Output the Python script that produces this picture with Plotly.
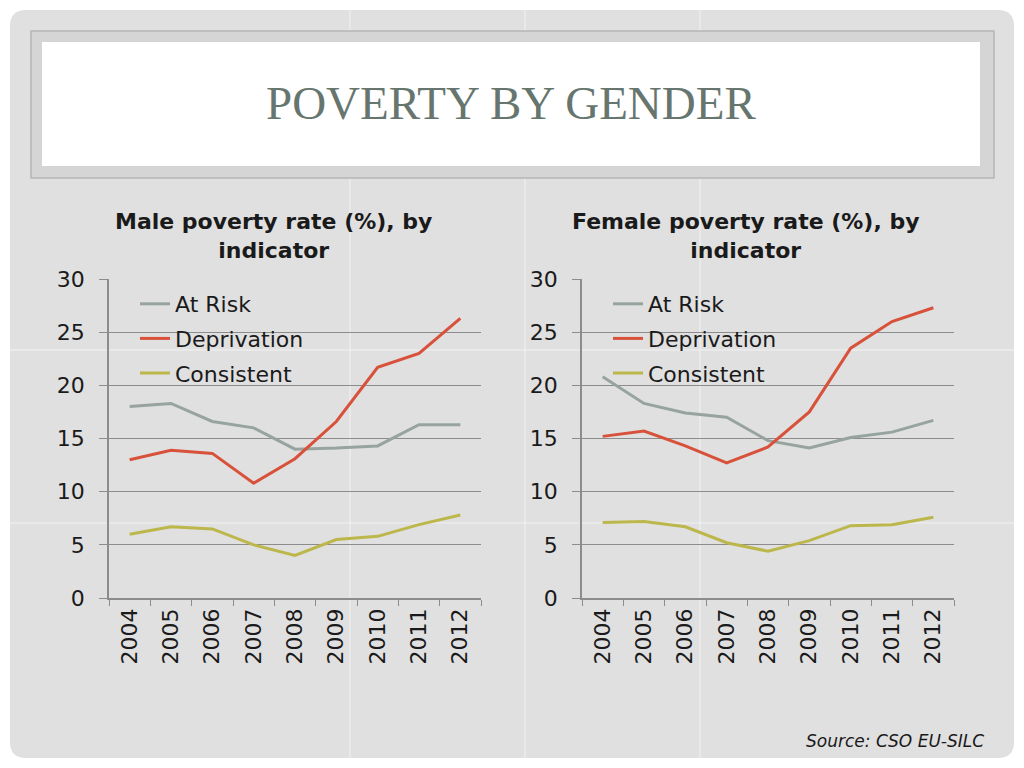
import plotly.graph_objects as go

years = ['2004', '2005', '2006', '2007', '2008', '2009', '2010', '2011', '2012']
series_names = ['At Risk', 'Deprivation', 'Consistent']

male_at_risk = [18.0, 18.3, 16.6, 16.0, 14.0, 14.1, 14.3, 16.3, 16.3]
male_deprivation = [13.0, 13.9, 13.6, 10.8, 13.1, 16.6, 21.7, 23.0, 26.3]
male_consistent = [6.0, 6.7, 6.5, 5.0, 4.0, 5.5, 5.8, 6.9, 7.8]

female_at_risk = [20.8, 18.3, 17.4, 17.0, 14.8, 14.1, 15.1, 15.6, 16.7]
female_deprivation = [15.2, 15.7, 14.3, 12.7, 14.2, 17.5, 23.5, 26.0, 27.3]
female_consistent = [7.1, 7.2, 6.7, 5.2, 4.4, 5.4, 6.8, 6.9, 7.6]

colors = ['#97a49e', '#d8513a', '#bcb74b']
W, H = 1024, 768
SANS = 'DejaVu Sans'


def px(x):
    return x / W


def py(y):
    return 1 - y / H


def rounded_rect(x0, y0, x1, y1, r):
    # path in paper coords, built from pixel positions
    pts = [
        ('M', (x0 + r, y0)), ('L', (x1 - r, y0)), ('Q', (x1, y0), (x1, y0 + r)),
        ('L', (x1, y1 - r)), ('Q', (x1, y1), (x1 - r, y1)),
        ('L', (x0 + r, y1)), ('Q', (x0, y1), (x0, y1 - r)),
        ('L', (x0, y0 + r)), ('Q', (x0, y0), (x0 + r, y0)),
    ]
    out = ''
    for cmd, *ps in pts:
        out += cmd + ' '.join(f'{px(a):.5f},{py(b):.5f}' for a, b in ps) + ' '
    return out + 'Z'


fig = go.Figure()

male = [male_at_risk, male_deprivation, male_consistent]
female = [female_at_risk, female_deprivation, female_consistent]
for i, name in enumerate(series_names):
    fig.add_trace(go.Scatter(x=years, y=male[i], name=name, mode='lines',
                             line={'color': colors[i], 'width': 3},
                             legendgroup=f'm{i}',
                             xaxis='x', yaxis='y', legend='legend'))
for i, name in enumerate(series_names):
    fig.add_trace(go.Scatter(x=years, y=female[i], name=name, mode='lines',
                             line={'color': colors[i], 'width': 3},
                             legendgroup=f'f{i}',
                             xaxis='x2', yaxis='y2', legend='legend2'))

xcommon = dict(type='category', range=[-0.5, 8.5], tickson='boundaries',
               ticks='outside', ticklen=6, tickcolor='#8c8c8c',
               showline=True, linecolor='#8c8c8c', linewidth=1.5,
               showgrid=False, tickangle=-90, automargin=False,
               tickfont={'family': SANS, 'size': 22, 'color': '#1a1a1a'})
ycommon = dict(range=[0, 30], dtick=5, ticks='outside', ticklen=8,
               tickcolor='#8c8c8c', showline=True, linecolor='#8c8c8c',
               linewidth=1.5, gridcolor='#8c8c8c', gridwidth=1,
               zeroline=False, ticklabelstandoff=10, automargin=False,
               tickfont={'family': SANS, 'size': 22, 'color': '#1a1a1a'})

legend_common = dict(bgcolor='rgba(0,0,0,0)', yanchor='top', xanchor='left',
                     font={'family': SANS, 'size': 22, 'color': '#1a1a1a'},
                     itemwidth=30, traceorder='grouped', tracegroupgap=3)

shapes = [
    dict(type='path', xref='paper', yref='paper', layer='below',
         path=rounded_rect(10, 10, 1014, 758, 16),
         fillcolor='#e0e0e0', line={'width': 0}),
]
for x in [350, 525, 700]:
    shapes.append(dict(type='line', xref='paper', yref='paper', layer='below',
                       x0=px(x), x1=px(x), y0=py(10), y1=py(758),
                       line={'color': '#f2f2f2', 'width': 1}))
for y in [350, 523]:
    shapes.append(dict(type='line', xref='paper', yref='paper', layer='below',
                       x0=px(10), x1=px(1014), y0=py(y), y1=py(y),
                       line={'color': '#f2f2f2', 'width': 1}))
shapes += [
    dict(type='rect', xref='paper', yref='paper', layer='below',
         x0=px(31), x1=px(994), y0=py(31), y1=py(178),
         fillcolor='#d5d5d5', line={'color': '#b5b5b5', 'width': 1.5}),
    dict(type='rect', xref='paper', yref='paper', layer='below',
         x0=px(42), x1=px(980), y0=py(42), y1=py(166),
         fillcolor='#ffffff', line={'width': 0}),
]

annotations = [
    dict(text='POVERTY BY GENDER', x=px(511), y=py(103), xref='paper', yref='paper',
         showarrow=False, xanchor='center', yanchor='middle',
         font={'family': 'Liberation Serif', 'size': 47, 'color': '#66766e'}),
    dict(text='<b>Male poverty rate (%), by<br>indicator</b>', x=px(273), y=py(236),
         xref='paper', yref='paper', showarrow=False, xanchor='center', yanchor='middle',
         font={'family': SANS, 'size': 22, 'color': '#1a1a1a'}),
    dict(text='<b>Female poverty rate (%), by<br>indicator</b>', x=px(746), y=py(236),
         xref='paper', yref='paper', showarrow=False, xanchor='center', yanchor='middle',
         font={'family': SANS, 'size': 22, 'color': '#1a1a1a'}),
    dict(text='<i>Source: CSO EU-SILC</i>', x=px(986), y=py(741),
         xref='paper', yref='paper', showarrow=False, xanchor='right', yanchor='middle',
         font={'family': SANS, 'size': 17, 'color': '#1a1a1a'}),
]

fig.update_layout(
    width=W, height=H,
    margin={'l': 0, 'r': 0, 't': 0, 'b': 0, 'pad': 0, 'autoexpand': False},
    paper_bgcolor='#ffffff', plot_bgcolor='rgba(0,0,0,0)',
    xaxis=dict(domain=[px(109), px(481)], anchor='y', **xcommon),
    yaxis=dict(domain=[py(598), py(279)], anchor='x', **ycommon),
    xaxis2=dict(domain=[px(582), px(954)], anchor='y2', **xcommon),
    yaxis2=dict(domain=[py(598), py(279)], anchor='x2', **ycommon),
    legend=dict(x=px(135), y=py(283), **legend_common),
    legend2=dict(x=px(608), y=py(283), **legend_common),
    shapes=shapes,
    annotations=annotations,
    showlegend=True,
)

fig.write_html('out.html', config={'displayModeBar': False},
               post_script="document.body.style.margin='0';")
